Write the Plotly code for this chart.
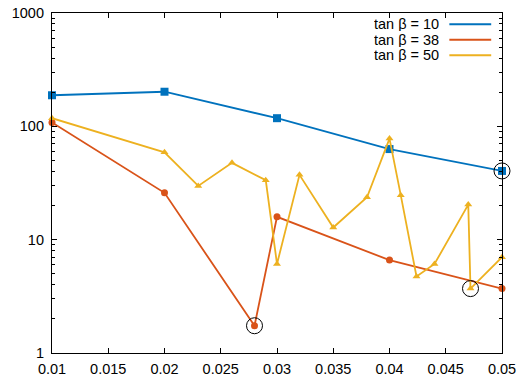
import plotly.graph_objects as go

# ---- data ----
x_tb10 = [0.01, 0.02, 0.03, 0.04, 0.05]
y_tb10 = [188, 202, 118, 63, 40.4]

x_tb38 = [0.01, 0.02, 0.028, 0.03, 0.04, 0.05]
y_tb38 = [108, 25.9, 1.74, 15.9, 6.6, 3.7]

x_tb50 = [0.01, 0.02, 0.023, 0.026, 0.029, 0.03, 0.032, 0.035, 0.038, 0.04,
          0.041, 0.0424, 0.044, 0.047, 0.0472, 0.05]
y_tb50 = [118, 59, 29.8, 47.6, 33.5, 6.1, 37.3, 12.8, 23.7, 78,
          24.7, 4.73, 6.1, 20.4, 3.7, 7.0]

x_hl = [0.028, 0.0472, 0.05]
y_hl = [1.74, 3.7, 40.4]

names = ["tan β = 10", "tan β = 38", "tan β = 50"]
colors = ["#0072BD", "#D95319", "#EDB120"]
symbols = ["square", "circle", "triangle-up"]
sizes = [8, 7, 7]

x_ticks = [0.01, 0.015, 0.02, 0.025, 0.03, 0.035, 0.04, 0.045, 0.05]
x_ticktext = ["0.01", "0.015", "0.02", "0.025", "0.03", "0.035", "0.04", "0.045", "0.05"]
y_ticks = [1, 10, 100, 1000]
y_ticktext = ["1", "10", "100", "1000"]
y_minor = [m * d for d in (1, 10, 100) for m in range(2, 10)]

FONT = "Liberation Sans, Arial, sans-serif"

fig = go.Figure()
for xs, ys, n, c, s, sz in zip([x_tb10, x_tb38, x_tb50], [y_tb10, y_tb38, y_tb50],
                              names, colors, symbols, sizes):
    fig.add_trace(go.Scatter(x=xs, y=ys, mode="lines+markers", name=n,
                             line=dict(color=c, width=1.8),
                             marker=dict(symbol=s, size=sz, color=c),
                             showlegend=False, cliponaxis=False))

fig.add_trace(go.Scatter(x=x_hl, y=y_hl, mode="markers",
                         marker=dict(symbol="circle-open", size=16,
                                     color="black", line=dict(width=1)),
                         showlegend=False, cliponaxis=False))

# gnuplot-style legend: text then line sample
leg_y = [0.967, 0.921, 0.876]
for n, c, yy in zip(names, colors, leg_y):
    fig.add_annotation(xref="paper", yref="paper", x=0.863, y=yy, text=n,
                       showarrow=False, xanchor="right", yanchor="middle",
                       height=14, borderpad=0,
                       font=dict(family=FONT, size=14.5, color="black"))
    fig.add_shape(type="line", xref="paper", yref="paper",
                  x0=0.883, x1=0.976, y0=yy, y1=yy,
                  line=dict(color=c, width=2))

fig.update_layout(
    width=531, height=389,
    margin=dict(l=52, r=29, t=13, b=36, autoexpand=False),
    plot_bgcolor="white", paper_bgcolor="white",
    font=dict(family=FONT, size=14.5, color="black"),
    showlegend=False,
)
fig.update_xaxes(range=[0.01, 0.05], tickvals=x_ticks, ticktext=x_ticktext,
                 ticks="inside", ticklen=5, tickcolor="black", automargin=False,
                 showline=True, linecolor="black", linewidth=1.2, mirror="ticks",
                 showgrid=False, zeroline=False, ticklabelstandoff=2)
fig.update_yaxes(type="log", range=[0, 3], tickvals=y_ticks, ticktext=y_ticktext,
                 ticks="inside", ticklen=5, tickcolor="black", automargin=False,
                 showline=True, linecolor="black", linewidth=1.2, mirror="ticks",
                 showgrid=False, zeroline=False, ticklabelstandoff=4,
                 minor=dict(tickvals=y_minor, ticks="inside", ticklen=3,
                            tickcolor="black", showgrid=False))

fig.write_html("out.html", config={"displayModeBar": False},
               post_script="document.body.style.margin='0';document.body.style.padding='0';")
